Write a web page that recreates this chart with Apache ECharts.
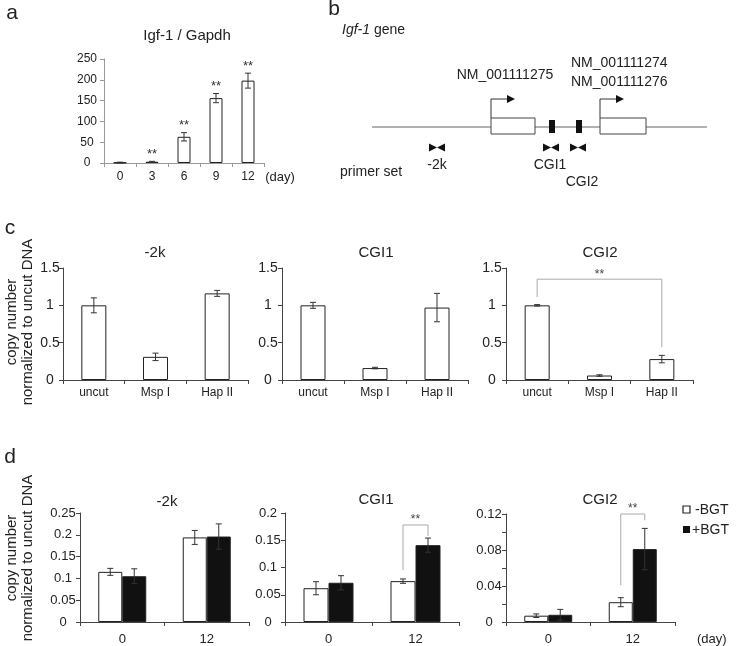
<!DOCTYPE html>
<html><head><meta charset="utf-8">
<script src="https://cdn.jsdelivr.net/npm/echarts@6/dist/echarts.min.js"></script>
<style>html,body{margin:0;padding:0;background:#fff}#main{width:750px;height:646px}</style>
</head><body><div id="main"></div>
<script>
// ---------- DATA ----------
const daysA = ['0', '3', '6', '9', '12'];
const igfMean = [1, 3, 63, 156, 198];
const igfErr = [1, 1, 10, 11, 18];
const igfSig = ['', '**', '**', '**', '**'];

const digestCats = ['uncut', 'Msp I', 'Hap II'];
const c2kMean = [1.0, 0.31, 1.16];
const c2kErr = [0.10, 0.05, 0.04];
const cCgi1Mean = [1.0, 0.16, 0.97];
const cCgi1Err = [0.04, 0.01, 0.19];
const cCgi2Mean = [1.0, 0.06, 0.28];
const cCgi2Err = [0.01, 0.01, 0.05];

const daysD = ['0', '12'];
const d2kMinus = [0.115, 0.194];
const d2kMinusErr = [0.008, 0.016];
const d2kPlus = [0.105, 0.196];
const d2kPlusErr = [0.017, 0.029];
const dCgi1Minus = [0.062, 0.075];
const dCgi1MinusErr = [0.012, 0.004];
const dCgi1Plus = [0.072, 0.141];
const dCgi1PlusErr = [0.013, 0.013];
const dCgi2Minus = [0.007, 0.022];
const dCgi2MinusErr = [0.002, 0.005];
const dCgi2Plus = [0.008, 0.081];
const dCgi2PlusErr = [0.006, 0.023];

// ---------- STYLE ----------
const FONT = 'Liberation Sans, Arial, sans-serif';
const chart = echarts.init(document.getElementById('main'));

function xAx(gi, cats, size, margin, lineColor) {
  return {type: 'category', gridIndex: gi, data: cats,
    axisLine: {lineStyle: {color: lineColor, width: 1}},
    axisTick: {show: true, length: 4, lineStyle: {color: lineColor}},
    axisLabel: {fontFamily: FONT, fontSize: size, color: '#222', margin: margin}};
}
function yAx(gi, max, interval, size, margin, lineColor, fmt) {
  return {type: 'value', gridIndex: gi, min: 0, max: max, interval: interval,
    splitLine: {show: false},
    axisLine: {show: true, lineStyle: {color: lineColor, width: 1}},
    axisTick: {show: true, length: 4, lineStyle: {color: lineColor}},
    axisLabel: {fontFamily: FONT, fontSize: size, color: '#222', margin: margin, align: 'center',
      formatter: fmt || (v => String(+v.toFixed(4)))}};
}
function barS(gi, data, color, width) {
  return {type: 'bar', xAxisIndex: gi, yAxisIndex: gi, data: data, barWidth: width, barGap: '0%',
    silent: true, animation: false,
    itemStyle: {color: color, borderColor: '#222', borderWidth: 1}};
}
function errS(gi, means, errs, offset, stars) {
  return {type: 'custom', xAxisIndex: gi, yAxisIndex: gi, z: 5, silent: true, animation: false,
    data: means.map((m, i) => [i, m, errs[i]]),
    renderItem: function (params, api) {
      const i = api.value(0), m = api.value(1), e = api.value(2);
      const t = api.coord([i, m + e]), b = api.coord([i, Math.max(0, m - e)]);
      const x = t[0] + offset, cap = 3;
      const st = {stroke: '#333', lineWidth: 1};
      const ch = [
        {type: 'line', shape: {x1: x, y1: t[1], x2: x, y2: b[1]}, style: st},
        {type: 'line', shape: {x1: x - cap, y1: t[1], x2: x + cap, y2: t[1]}, style: st},
        {type: 'line', shape: {x1: x - cap, y1: b[1], x2: x + cap, y2: b[1]}, style: st}
      ];
      if (stars && stars[i]) ch.push({type: 'text', style: {text: stars[i], x: x, y: t[1] - 7,
        textAlign: 'center', textVerticalAlign: 'middle', font: '13px ' + FONT, fill: '#333'}});
      return {type: 'group', children: ch};
    }};
}
// bracket: [fromCat, leftBottom, toCat, rightBottom, top], offsets in px
function brS(gi, br, offL, offR) {
  return {type: 'custom', xAxisIndex: gi, yAxisIndex: gi, z: 6, silent: true, animation: false,
    data: [br],
    renderItem: function (params, api) {
      const l = api.coord([api.value(0), api.value(1)]);
      const r = api.coord([api.value(2), api.value(3)]);
      const tp = api.coord([api.value(0), api.value(4)]);
      const xl = l[0] + offL, xr = r[0] + offR;
      return {type: 'group', children: [
        {type: 'polyline', shape: {points: [[xl, l[1]], [xl, tp[1]], [xr, tp[1]], [xr, r[1]]]},
          style: {stroke: '#aaa', lineWidth: 1, fill: null}},
        {type: 'text', style: {text: '**', x: (xl + xr) / 2, y: tp[1] - 5, textAlign: 'center',
          textVerticalAlign: 'middle', font: '12px ' + FONT, fill: '#444'}}
      ]};
    }};
}

const bracketC = [0, 1.11, 2, 0.44, 1.35];
const bracketD2 = [1, 0.095, 1, 0.158, 0.178];
const bracketD3 = [1, 0.041, 1, 0.113, 0.12];

const LC = '#444';
const option = {
  animation: false,
  grid: [
    {left: 104, top: 59, width: 160, height: 104},
    {left: 63, top: 268, width: 185, height: 112},
    {left: 282, top: 268, width: 186, height: 112},
    {left: 506, top: 268, width: 187, height: 112},
    {left: 80, top: 513, width: 169, height: 109},
    {left: 285, top: 513, width: 174, height: 109},
    {left: 506, top: 514, width: 169, height: 108}
  ],
  xAxis: [
    xAx(0, daysA, 12, 8, '#999'),
    xAx(1, digestCats, 12, 7, LC),
    xAx(2, digestCats, 12, 7, LC),
    xAx(3, digestCats, 12, 7, LC),
    xAx(4, daysD, 13, 11, LC),
    xAx(5, daysD, 13, 11, LC),
    xAx(6, daysD, 13, 11, LC)
  ],
  yAxis: [
    yAx(0, 250, 50, 12, 17, '#999'),
    yAx(1, 1.5, 0.5, 14, 13, LC),
    yAx(2, 1.5, 0.5, 14, 14, LC),
    yAx(3, 1.5, 0.5, 14, 14, LC),
    yAx(4, 0.25, 0.05, 13, 17, LC),
    yAx(5, 0.2, 0.05, 13, 17, LC),
    yAx(6, 0.12, 0.02, 13, 17, LC, v => (Math.round(v * 100) % 4 === 0 ? String(+v.toFixed(2)) : ''))
  ],
  series: [
    barS(0, igfMean, '#fff', 13), errS(0, igfMean, igfErr, 0, igfSig),
    barS(1, c2kMean, '#fff', 25), errS(1, c2kMean, c2kErr, 0),
    barS(2, cCgi1Mean, '#fff', 25), errS(2, cCgi1Mean, cCgi1Err, 0),
    barS(3, cCgi2Mean, '#fff', 25), errS(3, cCgi2Mean, cCgi2Err, 0), brS(3, bracketC, 0, 0),
    barS(4, d2kMinus, '#fff', 24), barS(4, d2kPlus, '#111', 24),
    errS(4, d2kMinus, d2kMinusErr, -12), errS(4, d2kPlus, d2kPlusErr, 12),
    barS(5, dCgi1Minus, '#fff', 25), barS(5, dCgi1Plus, '#111', 25),
    errS(5, dCgi1Minus, dCgi1MinusErr, -12.5), errS(5, dCgi1Plus, dCgi1PlusErr, 12.5),
    brS(5, bracketD2, -12.5, 12.5),
    barS(6, dCgi2Minus, '#fff', 24), barS(6, dCgi2Plus, '#111', 24),
    errS(6, dCgi2Minus, dCgi2MinusErr, -12), errS(6, dCgi2Plus, dCgi2PlusErr, 12),
    brS(6, bracketD3, -12, 12)
  ],
  graphic: []
};

function txt(text, x, y, size, align, extra) {
  return Object.assign({type: 'text', x: x, y: y, silent: true,
    style: {text: text, font: size + 'px ' + FONT, fill: '#222', textAlign: align || 'center', textVerticalAlign: 'middle'}}, extra || {});
}
const G = option.graphic;
// panel letters
G.push(txt('a', 12, 13, 21), txt('b', 334, 9, 21), txt('c', 10, 228, 21), txt('d', 10, 457, 21));
// titles
G.push(txt('Igf-1 / Gapdh', 187, 36, 15), txt('(day)', 280, 177, 13));
G.push(txt('-2k', 155, 253, 15), txt('CGI1', 376, 253, 15), txt('CGI2', 600, 253, 15));
G.push(txt('-2k', 167, 502, 15), txt('CGI1', 376, 500, 15), txt('CGI2', 600, 500, 15));
G.push(txt('(day)', 697, 639, 13, 'left'));
// y axis names (rotated)
[322, 558].forEach(cy => {
  G.push(txt('copy number', 12, cy, 15, 'center', {rotation: Math.PI / 2}));
  G.push(txt('normalized to uncut DNA', 28, cy, 15, 'center', {rotation: Math.PI / 2}));
});
// legend
G.push({type: 'rect', shape: {x: 683, y: 506, width: 7, height: 7}, style: {fill: '#fff', stroke: '#222', lineWidth: 1.2}});
G.push({type: 'rect', shape: {x: 683, y: 526, width: 7, height: 7}, style: {fill: '#111'}});
G.push(txt('-BGT', 695, 510, 14, 'left'), txt('+BGT', 692, 530, 14, 'left'));

// panel b diagram
G.push({type: 'text', x: 342, y: 30, style: {text: '{i|Igf-1} gene', font: '14px ' + FONT, fill: '#222', textVerticalAlign: 'middle',
  rich: {i: {fontStyle: 'italic', fontFamily: FONT, fontSize: 14}}}});
G.push({type: 'line', shape: {x1: 372, y1: 127, x2: 707, y2: 127}, style: {stroke: '#666', lineWidth: 1}});
G.push({type: 'rect', shape: {x: 491, y: 118, width: 44, height: 16}, style: {fill: '#fff', stroke: '#444', lineWidth: 1}});
G.push({type: 'rect', shape: {x: 600, y: 118, width: 46, height: 16}, style: {fill: '#fff', stroke: '#444', lineWidth: 1}});
G.push({type: 'rect', shape: {x: 549, y: 120, width: 6, height: 13}, style: {fill: '#111'}});
G.push({type: 'rect', shape: {x: 576, y: 120, width: 6, height: 13}, style: {fill: '#111'}});
[491, 600].forEach(x0 => {
  G.push({type: 'polyline', shape: {points: [[x0, 118], [x0, 99], [x0 + 17, 99]]}, style: {stroke: '#333', lineWidth: 1, fill: null}});
  G.push({type: 'polygon', shape: {points: [[x0 + 16, 95], [x0 + 24, 99], [x0 + 16, 103]]}, style: {fill: '#111'}});
});
G.push(txt('NM_001111275', 505, 75, 14));
G.push(txt('NM_001111274', 571, 63, 14, 'left'), txt('NM_001111276', 571, 82, 14, 'left'));
[437, 551, 578].forEach(cx => {
  G.push({type: 'polygon', shape: {points: [[cx - 8, 143.5], [cx, 147.5], [cx - 8, 151.5]]}, style: {fill: '#111'}});
  G.push({type: 'polygon', shape: {points: [[cx + 8, 143.5], [cx, 147.5], [cx + 8, 151.5]]}, style: {fill: '#111'}});
});
G.push(txt('-2k', 437, 165, 14), txt('CGI1', 550, 165, 14), txt('CGI2', 582, 182, 14));
G.push(txt('primer set', 340, 172, 14, 'left'));

chart.setOption(option);
</script></body></html>
